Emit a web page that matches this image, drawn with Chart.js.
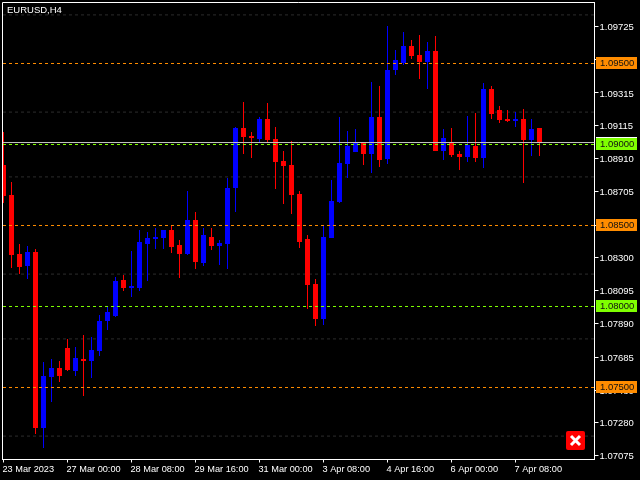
<!DOCTYPE html>
<html>
<head>
<meta charset="utf-8">
<title>EURUSD,H4</title>
<script src="https://cdn.jsdelivr.net/npm/chart.js@4/dist/chart.umd.min.js"></script>
<style>
  html, body { margin: 0; padding: 0; background: #000; }
  canvas { display: block; }
</style>
</head>
<body>
<canvas id="chart" width="640" height="480"></canvas>
<script>
// H4 candles, one entry per bar
const opens = [
  1.08870, 1.08685, 1.08321, 1.08247, 1.08333, 1.07247, 1.07562, 1.07617, 1.07741, 1.07599,
  1.07673, 1.07660, 1.07722, 1.07907, 1.07938, 1.08160, 1.08111, 1.08111, 1.08383, 1.08414,
  1.08420, 1.08469, 1.08377, 1.08321, 1.08531, 1.08265, 1.08426, 1.08370, 1.08383, 1.08728,
  1.09099, 1.09049, 1.09031, 1.09154, 1.09031, 1.08895, 1.08870, 1.08691, 1.08414, 1.08136,
  1.07920, 1.08420, 1.08642, 1.08877, 1.08951, 1.09012, 1.08938, 1.09167, 1.08907, 1.09457,
  1.09500, 1.09605, 1.09549, 1.09506, 1.09574, 1.08957, 1.09012, 1.08938, 1.08920, 1.08988,
  1.08914, 1.09340, 1.09210, 1.09154, 1.09142, 1.09154, 1.09025, 1.09099
];
const highs = [
  1.09074, 1.08765, 1.08383, 1.08370, 1.08352, 1.07654, 1.07673, 1.07660, 1.07796, 1.07747,
  1.07821, 1.07809, 1.07944, 1.07994, 1.08179, 1.08191, 1.08340, 1.08469, 1.08457, 1.08481,
  1.08469, 1.08500, 1.08407, 1.08710, 1.08580, 1.08481, 1.08481, 1.08407, 1.08790, 1.09105,
  1.09259, 1.09074, 1.09167, 1.09253, 1.09105, 1.08957, 1.09019, 1.08710, 1.08438, 1.08167,
  1.08500, 1.08778, 1.09167, 1.09080, 1.09093, 1.09012, 1.09383, 1.09358, 1.09728, 1.09580,
  1.09691, 1.09642, 1.09673, 1.09630, 1.09667, 1.09093, 1.09099, 1.08957, 1.09173, 1.09191,
  1.09377, 1.09358, 1.09235, 1.09210, 1.09198, 1.09216, 1.09154, 1.09099
];
const lows = [
  1.08636, 1.08235, 1.08198, 1.08167, 1.07210, 1.07123, 1.07407, 1.07531, 1.07599, 1.07568,
  1.07444, 1.07556, 1.07691, 1.07852, 1.07932, 1.08093, 1.08056, 1.08093, 1.08154, 1.08352,
  1.08352, 1.08327, 1.08173, 1.08315, 1.08228, 1.08247, 1.08346, 1.08253, 1.08228, 1.08580,
  1.08938, 1.08914, 1.09006, 1.09006, 1.08722, 1.08630, 1.08568, 1.08358, 1.07981, 1.07877,
  1.07883, 1.08420, 1.08636, 1.08790, 1.08951, 1.08870, 1.08821, 1.08858, 1.08877, 1.09426,
  1.09488, 1.09525, 1.09401, 1.09340, 1.08957, 1.08901, 1.08920, 1.08840, 1.08889, 1.08889,
  1.08852, 1.09154, 1.09130, 1.09136, 1.09105, 1.08759, 1.08926, 1.08926
];
const closes = [
  1.08679, 1.08315, 1.08241, 1.08333, 1.07247, 1.07568, 1.07617, 1.07568, 1.07605, 1.07679,
  1.07660, 1.07728, 1.07907, 1.07963, 1.08154, 1.08111, 1.08123, 1.08395, 1.08420, 1.08426,
  1.08469, 1.08364, 1.08321, 1.08531, 1.08272, 1.08438, 1.08370, 1.08389, 1.08728, 1.09099,
  1.09043, 1.09037, 1.09154, 1.09025, 1.08889, 1.08864, 1.08685, 1.08395, 1.08130, 1.07920,
  1.08426, 1.08648, 1.08883, 1.08988, 1.09006, 1.08938, 1.09167, 1.08901, 1.09457, 1.09519,
  1.09605, 1.09543, 1.09506, 1.09574, 1.08957, 1.09037, 1.08932, 1.08920, 1.08994, 1.08914,
  1.09340, 1.09185, 1.09148, 1.09142, 1.09154, 1.09025, 1.09093, 1.09006
];

// axis labels
const timeTicks = [0, 8, 16, 24, 32, 40, 48, 56, 64];
const timeLabels = ["23 Mar 2023", "27 Mar 00:00", "28 Mar 08:00", "29 Mar 16:00", "31 Mar 00:00",
  "3 Apr 08:00", "4 Apr 16:00", "6 Apr 00:00", "7 Apr 08:00"];
const priceTicks = [1.09725, 1.0952, 1.09315, 1.09115, 1.0891, 1.08705, 1.085, 1.083,
  1.08095, 1.0789, 1.07685, 1.0748, 1.0728, 1.07075];

// horizontal levels
const orangeLevels = [1.095, 1.085, 1.075];
const greenLevels = [1.09, 1.08];
const dimLevels = [1.098, 1.092, 1.088, 1.082, 1.078, 1.072];
const bidPrice = 1.09012;

const BULL = "#0000FF", BEAR = "#FF0000";
const ORANGE = "#FF8C00", GREEN = "#7FFF00";
const FONT = "9.5px 'Liberation Sans'";
const xMin = -0.0625, xMax = 73.875;
// half a pixel of price, keeps the dashed levels on one pixel row
const crisp = 0.00003;

const candleColors = closes.map((c, i) => (c >= opens[i] ? BULL : BEAR));

function levelLine(price, color, dash, order) {
  return {
    type: "line",
    data: [{ x: xMin, y: price - crisp }, { x: xMax, y: price - crisp }],
    borderColor: color,
    borderWidth: 1,
    borderDash: dash,
    pointRadius: 0,
    order: order,
  };
}

// the label overhang would push the plot area in, the frame here is fixed
function noPadding(scale) {
  scale.paddingTop = 0;
  scale.paddingBottom = 0;
  scale.paddingLeft = 0;
  scale.paddingRight = 0;
}

// tags, frame, title and close button
const overlay = {
  id: "overlay",
  afterDraw(chart) {
    const ctx = chart.ctx;
    const yScale = chart.scales.y;
    ctx.save();
    ctx.strokeStyle = "#fff";
    ctx.lineWidth = 1;
    ctx.beginPath();
    ctx.moveTo(2.5, 460);
    ctx.lineTo(2.5, 2.5);
    ctx.lineTo(595, 2.5);
    ctx.stroke();

    ctx.font = FONT;
    ctx.textBaseline = "middle";
    ctx.fillStyle = "#fff";
    ctx.fillText("EURUSD,H4", 7, 10.5);

    const tag = (price, color) => {
      const y = Math.floor(yScale.getPixelForValue(price));
      ctx.fillStyle = color;
      ctx.fillRect(596, y - 6, 41, 12);
      ctx.fillStyle = "#111";
      ctx.fillText(price.toFixed(5), 600, y + 0.5);
    };
    // bid tag sits under the 1.09000 tag, only its top edge shows
    ctx.fillStyle = "#fff";
    ctx.fillRect(596, 137, 41, 6);
    orangeLevels.forEach((p) => tag(p, ORANGE));
    greenLevels.forEach((p) => tag(p, GREEN));

    ctx.fillStyle = "#FF0000";
    ctx.beginPath();
    ctx.roundRect(566, 431, 19, 19, 2);
    ctx.fill();
    ctx.strokeStyle = "#fff";
    ctx.lineWidth = 3;
    ctx.beginPath();
    ctx.moveTo(571, 436);
    ctx.lineTo(580, 445);
    ctx.moveTo(580, 436);
    ctx.lineTo(571, 445);
    ctx.stroke();
    ctx.restore();
  },
};

new Chart(document.getElementById("chart").getContext("2d"), {
  type: "bar",
  data: {
    datasets: [
      ...orangeLevels.map((p) => levelLine(p, ORANGE, [3, 3], 0)),
      ...greenLevels.map((p) => levelLine(p, GREEN, [3, 3], 0)),
      levelLine(bidPrice, "#C8C8C8", [], 1),
      {
        data: opens.map((o, i) => ({ x: i, y: [o, closes[i]] })),
        backgroundColor: candleColors,
        barThickness: 5,
        order: 2,
      },
      {
        data: highs.map((h, i) => ({ x: i, y: [lows[i], h] })),
        backgroundColor: candleColors,
        barThickness: 1,
        order: 3,
      },
      ...dimLevels.map((p) => levelLine(p, "#2C2C2C", [3, 3], 4)),
    ],
  },
  options: {
    responsive: false,
    animation: false,
    devicePixelRatio: 1,
    grouped: false,
    inflateAmount: 0,
    borderWidth: 0,
    layout: { padding: { left: 3, top: 3, right: 0, bottom: 0 } },
    plugins: { legend: { display: false }, tooltip: { enabled: false } },
    scales: {
      x: {
        type: "linear",
        bounds: "data",
        min: xMin,
        max: xMax,
        offset: false,
        afterBuildTicks(scale) {
          scale.ticks = timeTicks.map((v) => ({ value: v }));
        },
        afterFit(scale) {
          scale.height = 20.5;
          noPadding(scale);
        },
        grid: { display: true, offset: false, drawOnChartArea: false, tickLength: 3, tickColor: "#fff" },
        border: { color: "#fff", width: 1 },
        ticks: {
          autoSkip: false,
          maxRotation: 0,
          align: "start",
          padding: 1,
          labelOffset: -1,
          color: "#fff",
          font: { family: "Liberation Sans", size: 9.2 },
          callback: (v) => timeLabels[timeTicks.indexOf(v)],
        },
      },
      y: {
        position: "right",
        bounds: "data",
        min: 1.070525,
        max: 1.098704,
        afterBuildTicks(scale) {
          scale.ticks = priceTicks.map((v) => ({ value: v }));
        },
        afterFit(scale) {
          scale.width = 45.5;
          noPadding(scale);
        },
        grid: { display: true, drawOnChartArea: false, tickLength: 4, tickColor: "#fff" },
        border: { color: "#fff", width: 1 },
        ticks: {
          autoSkip: false,
          padding: 1,
          labelOffset: 1,
          color: "#fff",
          font: { family: "Liberation Sans", size: 9.5 },
          callback: (v) => v.toFixed(5),
        },
      },
    },
  },
  plugins: [overlay],
});
</script>
</body>
</html>
